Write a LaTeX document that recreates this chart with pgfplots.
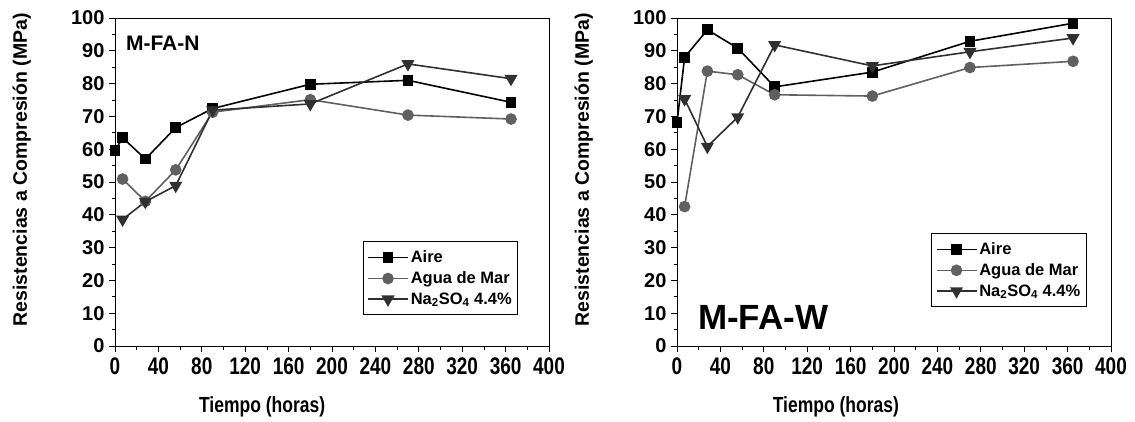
\documentclass[border=0pt]{standalone}
\usepackage{pgfplots}
\pgfplotsset{compat=1.18}
\usepackage{fontspec}
\setmainfont{Liberation Sans}
\definecolor{cAgua}{HTML}{606060}
\definecolor{cSulf}{HTML}{303030}

\pgfplotsset{
  mystyle/.style={
    scale only axis,
    width=434pt, height=328pt,
    xmin=0, xmax=400, ymin=0, ymax=100,
    xtick={0,40,...,400}, ytick={0,10,...,100},
    minor x tick num=1, minor y tick num=1,
    tick align=outside, tick pos=left,
    major tick length=6pt, minor tick length=3.5pt,
    every tick/.style={black, line width=0.8pt},
    axis line style={line width=0.9pt},
    /pgf/number format/assume math mode=true,
    ticklabel style={font=\bfseries\fontsize{20}{20}\selectfont},
    xticklabel style={yshift=-2pt, yscale=1.2, xscale=0.95},
    yticklabel style={xshift=-1pt},
    xlabel={Tiempo (horas)},
    ylabel={Resistencias a Compresión (MPa)},
    xlabel style={font=\bfseries\fontsize{17.5}{20}\selectfont, yscale=1.25},
    ylabel style={font=\bfseries\fontsize{19.5}{20}\selectfont, at={(axis description cs:-0.203,0.537)}, anchor=base},
    legend style={draw=black, line width=0.8pt, font=\bfseries\fontsize{16.5}{18}\selectfont,
      anchor=south west, legend cell align=left, row sep=3.5pt, inner xsep=4pt, inner ysep=7pt},
    legend image code/.code={\draw[mark repeat=2, mark phase=2] plot coordinates {(0pt,0pt) (20pt,0pt) (40pt,0pt)};},
    clip=false,
  },
  sAire/.style={black, line width=1.6pt, mark=square*, mark size=4.6pt, mark options={solid, fill=black}},
  sAgua/.style={cAgua, line width=1.6pt, mark=*, mark size=5pt, mark options={solid, fill=cAgua, draw=cAgua}},
  sSulf/.style={cSulf, line width=1.6pt, mark=triangle*, mark size=6pt, mark options={solid, rotate=180, fill=cSulf, draw=cSulf}},
}

\begin{document}
\begin{tikzpicture}
\useasboundingbox (0,0) rectangle (1135pt,421pt);

\begin{axis}[mystyle, at={(115pt,75pt)}, anchor=south west,
  xlabel style={at={(axis description cs:0.339,0)}, anchor=north, yshift=-37pt},
  legend style={at={(axis description cs:0.571,0.094)}}]
\addplot[sAire] coordinates {(0,59.5) (7,63.5) (28,57.0) (56,66.6) (90,72.4) (180,79.8) (270,81.0) (365,74.3)};
\addlegendentry{Aire}
\addplot[sAgua] coordinates {(7,50.9) (28,44.1) (56,53.7) (90,71.3) (180,75.1) (270,70.4) (365,69.2)};
\addlegendentry{Agua de Mar}
\addplot[sSulf] coordinates {(7,38.6) (28,44.0) (56,48.9) (90,71.9) (180,73.8) (270,86.0) (365,81.5)};
\addlegendentry{Na\textsubscript{2}SO\textsubscript{4} 4.4\%}
\node[anchor=base west, font=\bfseries\fontsize{21}{21}\selectfont, inner sep=0pt] at (axis description cs:0.025,0.902) {M-FA-N};
\end{axis}

\begin{axis}[mystyle, at={(677pt,75pt)}, anchor=south west,
  xlabel style={at={(axis description cs:0.366,0)}, anchor=north, yshift=-37pt},
  legend style={at={(axis description cs:0.586,0.119)}}]
\addplot[sAire] coordinates {(0,68.1) (7,88.0) (28,96.4) (56,90.8) (90,79.0) (180,83.5) (270,92.9) (365,98.4)};
\addlegendentry{Aire}
\addplot[sAgua] coordinates {(7,42.5) (28,83.8) (56,82.7) (90,76.6) (180,76.2) (270,84.9) (365,86.8)};
\addlegendentry{Agua de Mar}
\addplot[sSulf] coordinates {(7,75.3) (28,60.8) (56,69.8) (90,91.8) (180,85.4) (270,89.7) (365,93.9)};
\addlegendentry{Na\textsubscript{2}SO\textsubscript{4} 4.4\%}
\node[anchor=base west, font=\bfseries\fontsize{35}{35}\selectfont, inner sep=0pt] at (axis description cs:0.048,0.049) {M-FA-W};
\end{axis}
\end{tikzpicture}
\end{document}
